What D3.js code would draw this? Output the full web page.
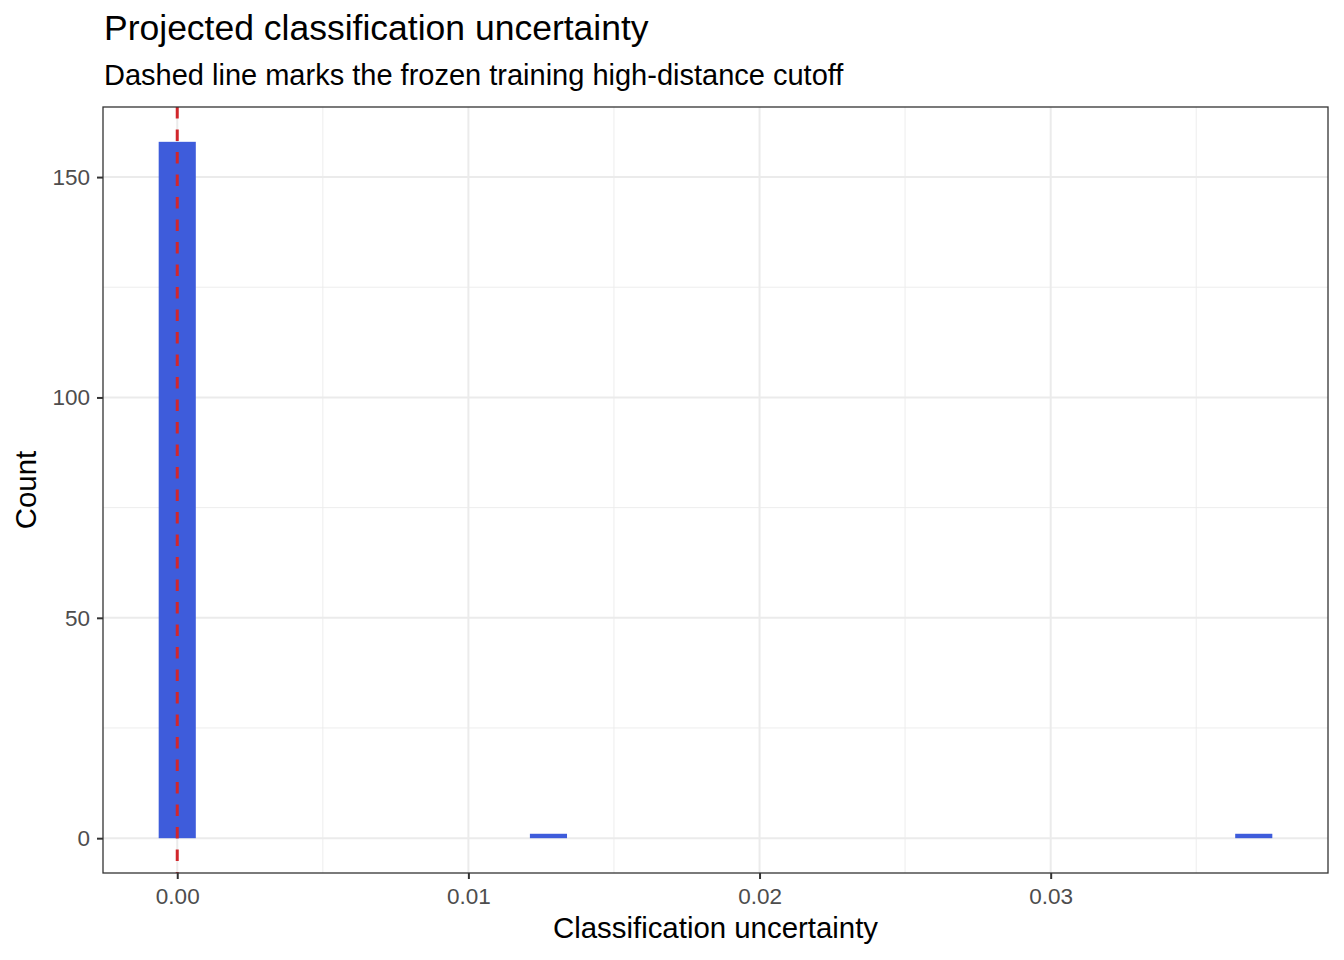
<!DOCTYPE html>
<html>
<head>
<meta charset="utf-8">
<script src="https://cdn.jsdelivr.net/npm/d3@7"></script>
<style>
  body { margin: 0; background: #fff; }
  text { font-family: "Liberation Sans", Arial, sans-serif; }
</style>
</head>
<body>
<svg id="chart" width="1344" height="960"></svg>
<script>
// Histogram bins (30 bins, first one centred on 0)
const binWidth = 0.001275;
const binCounts = [158, 0, 0, 0, 0, 0, 0, 0, 0, 0,
                   1, 0, 0, 0, 0, 0, 0, 0, 0, 0,
                   0, 0, 0, 0, 0, 0, 0, 0, 0, 1];
const cutoff = 0;  // frozen training high-distance cutoff
const xTicks = [0, 0.01, 0.02, 0.03];
const xMinor = [0.005, 0.015, 0.025, 0.035];
const yTicks = [0, 50, 100, 150];
const yMinor = [25, 75, 125];

const bins = binCounts.map((c, i) => ({
    x0: (i - 0.5) * binWidth,
    x1: (i + 0.5) * binWidth,
    count: c
}));

const svg = d3.select("#chart");
const margin = { left: 103, right: 16, top: 107, bottom: 87 };
const width = 1344 - margin.left - margin.right;
const height = 960 - margin.top - margin.bottom;

// ggplot-style 5% expansion
const xLo = d3.min(bins, d => d.x0), xHi = d3.max(bins, d => d.x1);
const xPad = (xHi - xLo) * 0.05;
const x = d3.scaleLinear().domain([xLo - xPad, xHi + xPad]).range([0, width]);
const yHi = d3.max(bins, d => d.count);
const y = d3.scaleLinear().domain([-yHi * 0.05, yHi * 1.05]).range([height, 0]);

const g = svg.append("g").attr("transform", `translate(${margin.left},${margin.top})`);

// minor grid
g.selectAll(".xminor").data(xMinor).enter().append("line")
    .attr("x1", d => x(d)).attr("x2", d => x(d))
    .attr("y1", 0).attr("y2", height)
    .attr("stroke", "#ebebeb").attr("stroke-width", 0.9);
g.selectAll(".yminor").data(yMinor).enter().append("line")
    .attr("x1", 0).attr("x2", width)
    .attr("y1", d => y(d)).attr("y2", d => y(d))
    .attr("stroke", "#ebebeb").attr("stroke-width", 0.9);

// major grid
g.selectAll(".xmajor").data(xTicks).enter().append("line")
    .attr("x1", d => x(d)).attr("x2", d => x(d))
    .attr("y1", 0).attr("y2", height)
    .attr("stroke", "#ebebeb").attr("stroke-width", 2);
g.selectAll(".ymajor").data(yTicks).enter().append("line")
    .attr("x1", 0).attr("x2", width)
    .attr("y1", d => y(d)).attr("y2", d => y(d))
    .attr("stroke", "#ebebeb").attr("stroke-width", 2);

// bars
g.selectAll(".bar").data(bins.filter(d => d.count > 0)).enter().append("rect")
    .attr("x", d => x(d.x0))
    .attr("width", d => x(d.x1) - x(d.x0))
    .attr("y", d => y(d.count))
    .attr("height", d => y(0) - y(d.count))
    .attr("fill", "#3e5cdb");

// cutoff line
g.append("line")
    .attr("x1", x(cutoff)).attr("x2", x(cutoff))
    .attr("y1", 0).attr("y2", height)
    .attr("stroke", "#d1262b").attr("stroke-width", 3)
    .attr("stroke-dasharray", "11.5,11");

// panel border
g.append("rect").attr("width", width).attr("height", height)
    .attr("fill", "none").attr("stroke", "#333333").attr("stroke-width", 1.3);

// axes
const xAxis = g.append("g").attr("transform", `translate(0,${height})`)
    .call(d3.axisBottom(x).tickValues(xTicks).tickFormat(d3.format(".2f")).tickSizeOuter(0).tickSize(6).tickPadding(9));
const yAxis = g.append("g")
    .call(d3.axisLeft(y).tickValues(yTicks).tickSizeOuter(0).tickSize(6).tickPadding(7));
[xAxis, yAxis].forEach(a => {
    a.select(".domain").remove();
    a.selectAll(".tick line").attr("stroke", "#333333").attr("stroke-width", 2);
    a.selectAll(".tick text").attr("fill", "#4d4d4d").style("font-size", "22.5px")
        .style("font-family", "'Liberation Sans', Arial, sans-serif");
});

// titles
svg.append("text").attr("x", 104).attr("y", 40)
    .style("font-size", "35.5px").attr("fill", "#000")
    .text("Projected classification uncertainty");
svg.append("text").attr("x", 104).attr("y", 85)
    .style("font-size", "29px").attr("fill", "#000")
    .text("Dashed line marks the frozen training high-distance cutoff");
svg.append("text").attr("x", margin.left + width / 2).attr("y", 938)
    .attr("text-anchor", "middle").style("font-size", "29.4px")
    .text("Classification uncertainty");
svg.append("text")
    .attr("transform", `translate(36,${margin.top + height / 2}) rotate(-90)`)
    .attr("text-anchor", "middle").style("font-size", "29.4px")
    .text("Count");
</script>
</body>
</html>
